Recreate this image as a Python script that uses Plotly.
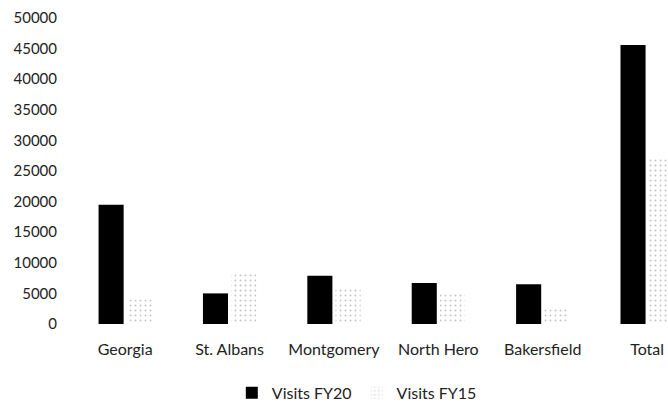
import plotly.graph_objects as go

categories = ["Georgia", "St. Albans", "Montgomery", "North Hero", "Bakersfield", "Total"]
visits_fy20 = [19500, 5000, 7900, 6700, 6500, 45600]
visits_fy15 = [4000, 8300, 6100, 5100, 2800, 27000]
y_ticks = [0, 5000, 10000, 15000, 20000, 25000, 30000, 35000, 40000, 45000, 50000]

fig = go.Figure()
fig.add_trace(go.Bar(
    x=categories, y=visits_fy20, name="Visits FY20",
    marker=dict(color="black", line=dict(width=0)),
))
fig.add_trace(go.Bar(
    x=categories, y=visits_fy15, name="Visits FY15",
    marker=dict(color="white", line=dict(width=0),
                pattern=dict(shape=".", fgcolor="#888888", bgcolor="white",
                             size=5, solidity=0.12)),
))

font_family = "Lato, 'Open Sans', sans-serif"
fig.update_layout(
    width=668, height=413, autosize=False,
    margin=dict(l=73, r=0, t=18, b=89),
    paper_bgcolor="white", plot_bgcolor="white",
    barmode="group", bargap=0.46, bargroupgap=0.11,
    font=dict(family=font_family, size=16, color="#222222"),
    showlegend=True,
    legend=dict(orientation="h", x=0.477, xanchor="center", y=-0.225, yanchor="middle",
                font=dict(size=16), itemwidth=30),
)
fig.update_xaxes(
    range=[-0.5, 5.2], showline=False, showgrid=False, ticks="",
    ticklabelstandoff=14, tickfont=dict(size=16), automargin=False,
)
fig.update_yaxes(
    range=[0, 50000], tickvals=y_ticks, ticktext=[str(v) for v in y_ticks],
    showgrid=False, zeroline=False, showline=False, ticks="",
    ticklabelstandoff=15, tickfont=dict(size=15), automargin=False,
)

fig.write_html(
    "out.html",
    config={"displayModeBar": False},
    post_script="document.body.style.margin='0px';document.body.style.overflow='hidden';",
)
